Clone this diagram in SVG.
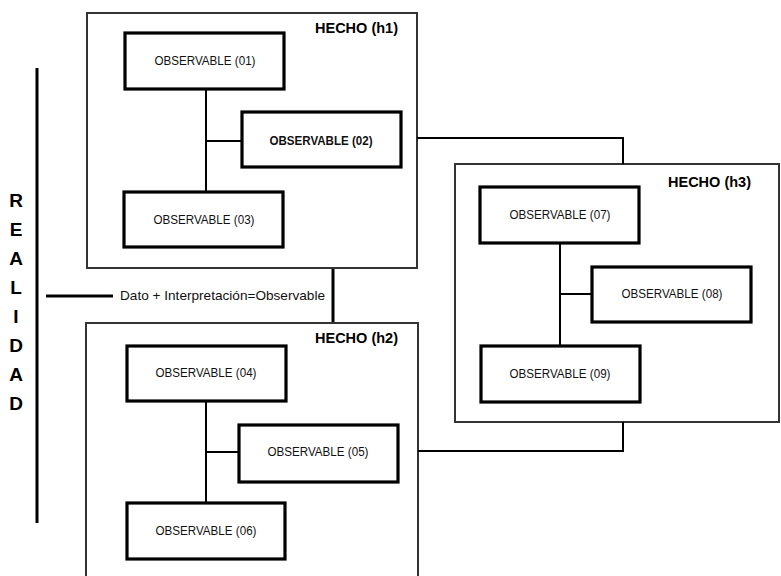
<svg xmlns="http://www.w3.org/2000/svg" width="781" height="576" viewBox="0 0 781 576">
  <style>
    .hecho { fill: #fff; stroke: #333; stroke-width: 2; }
    .obs { fill: #fff; stroke: #000; stroke-width: 3.2; }
    .link { fill: none; stroke: #000; stroke-width: 2; }
    .thick { fill: none; stroke: #000; stroke-width: 3; }
    .label { font-family: "Liberation Sans", Arial, sans-serif; font-size: 12.5px; fill: #111; text-anchor: middle; }
    .title { font-family: "Liberation Sans", Arial, sans-serif; font-size: 14.5px; font-weight: bold; fill: #000; text-anchor: end; }
    .vert { font-family: "Liberation Sans", Arial, sans-serif; font-size: 19px; font-weight: bold; fill: #000; text-anchor: middle; }
    .note { font-family: "Liberation Sans", Arial, sans-serif; font-size: 13.5px; fill: #111; }
  </style>
  <rect width="781" height="576" fill="#fff"/>

  <!-- REALIDAD axis -->
  <g id="realidad">
    <line class="thick" x1="37" y1="68" x2="37" y2="523"/>
    <text class="vert" x="16" y="207">R</text>
    <text class="vert" x="16" y="236">E</text>
    <text class="vert" x="16" y="265">A</text>
    <text class="vert" x="16" y="294">L</text>
    <text class="vert" x="16" y="323">I</text>
    <text class="vert" x="16" y="352">D</text>
    <text class="vert" x="16" y="381">A</text>
    <text class="vert" x="16" y="410">D</text>
  </g>

  <!-- HECHO containers -->
  <g id="h1">
    <rect class="hecho" x="87" y="13" width="330" height="255"/>
    <text class="title" x="398" y="33" textLength="83" lengthAdjust="spacingAndGlyphs">HECHO  (h1)</text>
  </g>
  <g id="h2">
    <rect class="hecho" x="86" y="323" width="332" height="270"/>
    <text class="title" x="398" y="343" textLength="83" lengthAdjust="spacingAndGlyphs">HECHO  (h2)</text>
  </g>
  <g id="h3">
    <rect class="hecho" x="455" y="164" width="324" height="258"/>
    <text class="title" x="751" y="187" textLength="83" lengthAdjust="spacingAndGlyphs">HECHO  (h3)</text>
  </g>

  <!-- connectors -->
  <g id="connectors">
    <path class="link" d="M206 89 V192 M206 141 H242"/>
    <path class="link" d="M206 401 V503 M206 452 H239"/>
    <path class="link" d="M560 243 V346 M560 294 H592"/>
    <path class="link" d="M417 138 H623 V164"/>
    <path class="link" d="M418 451 H623 V422"/>
    <line class="thick" x1="333" y1="269" x2="333" y2="322"/>
    <line class="thick" x1="46" y1="296" x2="113" y2="296"/>
    <text class="note" x="120" y="300" textLength="205" lengthAdjust="spacingAndGlyphs">Dato + Interpretación=Observable</text>
  </g>

  <!-- observables -->
  <g id="obs01">
    <rect class="obs" x="125" y="33" width="159" height="56"/>
    <text class="label" x="205" y="65" textLength="101" lengthAdjust="spacingAndGlyphs">OBSERVABLE (01)</text>
  </g>
  <g id="obs02">
    <rect class="obs" x="242" y="112" width="159" height="55"/>
    <text class="label" x="321" y="145" font-weight="bold" textLength="103" lengthAdjust="spacingAndGlyphs">OBSERVABLE (02)</text>
  </g>
  <g id="obs03">
    <rect class="obs" x="124" y="192" width="159" height="55"/>
    <text class="label" x="204" y="224" textLength="101" lengthAdjust="spacingAndGlyphs">OBSERVABLE (03)</text>
  </g>
  <g id="obs04">
    <rect class="obs" x="127" y="346" width="159" height="55"/>
    <text class="label" x="206" y="377" textLength="101" lengthAdjust="spacingAndGlyphs">OBSERVABLE (04)</text>
  </g>
  <g id="obs05">
    <rect class="obs" x="239" y="425" width="159" height="57"/>
    <text class="label" x="318" y="456" textLength="101" lengthAdjust="spacingAndGlyphs">OBSERVABLE (05)</text>
  </g>
  <g id="obs06">
    <rect class="obs" x="127" y="503" width="158" height="56"/>
    <text class="label" x="206" y="535" textLength="101" lengthAdjust="spacingAndGlyphs">OBSERVABLE (06)</text>
  </g>
  <g id="obs07">
    <rect class="obs" x="480" y="187" width="159" height="56"/>
    <text class="label" x="560" y="219" textLength="101" lengthAdjust="spacingAndGlyphs">OBSERVABLE (07)</text>
  </g>
  <g id="obs08">
    <rect class="obs" x="592" y="267" width="159" height="55"/>
    <text class="label" x="672" y="298" textLength="101" lengthAdjust="spacingAndGlyphs">OBSERVABLE (08)</text>
  </g>
  <g id="obs09">
    <rect class="obs" x="481" y="346" width="159" height="56"/>
    <text class="label" x="560" y="378" textLength="101" lengthAdjust="spacingAndGlyphs">OBSERVABLE (09)</text>
  </g>
</svg>
